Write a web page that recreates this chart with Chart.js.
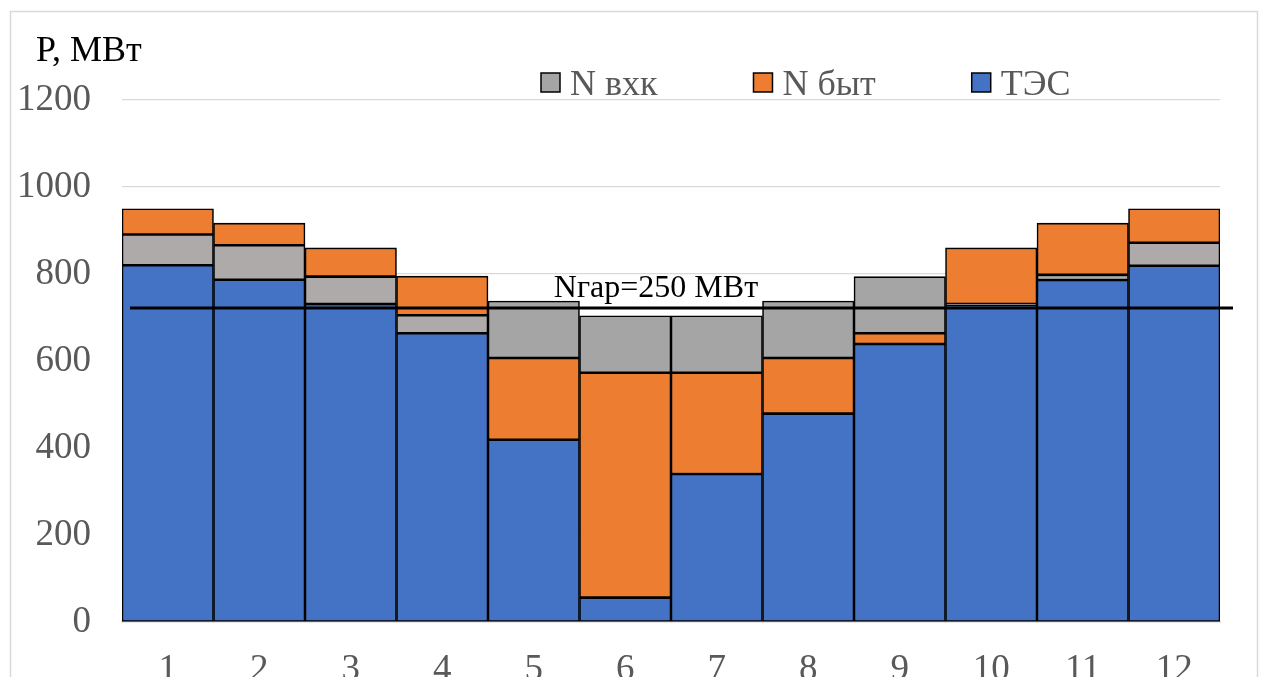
<!DOCTYPE html>
<html>
<head>
<meta charset="utf-8">
<title>Баланс мощности по месяцам</title>
<script src="https://cdn.jsdelivr.net/npm/chart.js@4"></script>
<style>
  html, body { margin: 0; padding: 0; background: #fff; overflow: hidden; }
  canvas { display: block; }
</style>
</head>
<body>
<canvas id="chart" width="1264" height="720"></canvas>
<script>
// Месяцы года
const months = ['1', '2', '3', '4', '5', '6', '7', '8', '9', '10', '11', '12'];

// Мощность ТЭС, МВт
const tes  = [820, 787, 731, 664, 419, 56, 340, 479, 639, 729, 786, 819];
// Бытовая нагрузка ГЭС, МВт
const nByt = [59, 51, 66, 90, 188, 517, 233, 128, 25, 129, 119, 78];
// Нагрузка ВХК, МВт
const nVhk = [71, 79, 63, 41, 131, 131, 131, 131, 130, 2, 12, 53];
// Месяцы, в которых бытовая составляющая лежит сразу над ТЭС (иначе — над ВХК)
const bytBelowVhk = [0, 0, 0, 0, 1, 1, 1, 1, 1, 0, 0, 0];

// Деления оси мощности
const yTicks = [0, 200, 400, 600, 800, 1000, 1200];

// Уровень гарантированной мощности и подпись к нему
const nGarLevel = 722;
const nGarLabel = 'Nгар=250 МВт';
const axisTitle = 'P, МВт';

const names  = { vhk: 'N вхк', byt: 'N быт', tes: 'ТЭС' };
const colors = { tes: '#4472C4', byt: '#ED7D31', vhk: '#A5A5A5', vhkWinter: '#AEAAAA' };

const SERIF = "'Liberation Serif', 'Times New Roman', serif";

const barStyle = {
  borderColor: '#000',
  borderWidth: 1.6,
  borderSkipped: false,
  categoryPercentage: 1,
  barPercentage: 1
};

const datasets = [
  Object.assign({ label: names.tes, data: tes, backgroundColor: colors.tes }, barStyle),
  Object.assign({ label: names.byt, data: nByt.map((v, i) => bytBelowVhk[i] ? v : null),
                  backgroundColor: colors.byt }, barStyle),
  Object.assign({ label: names.vhk, data: nVhk,
                  backgroundColor: nVhk.map((v, i) => bytBelowVhk[i] ? colors.vhk : colors.vhkWinter) }, barStyle),
  Object.assign({ label: names.byt, data: nByt.map((v, i) => bytBelowVhk[i] ? null : v),
                  backgroundColor: colors.byt }, barStyle)
];

// Рамка, заголовок оси, линия Nгар и легенда
const decorations = {
  id: 'decorations',
  beforeDraw(chart) {
    const ctx = chart.ctx;
    ctx.save();
    ctx.strokeStyle = '#D9D9D9';
    ctx.lineWidth = 1.5;
    ctx.strokeRect(10.5, 11.5, 1247, 760);
    ctx.restore();
  },
  afterDatasetsDraw(chart) {
    const ctx = chart.ctx;
    const area = chart.chartArea;
    const y = chart.scales.y.getPixelForValue(nGarLevel);
    ctx.save();
    ctx.strokeStyle = '#000';
    ctx.lineWidth = 3;
    ctx.beginPath();
    ctx.moveTo(area.left + 8, y);
    ctx.lineTo(area.right + 13, y);
    ctx.stroke();

    ctx.fillStyle = '#000';
    ctx.font = '32px ' + SERIF;
    ctx.textAlign = 'center';
    ctx.textBaseline = 'alphabetic';
    ctx.fillText(nGarLabel, 656, y - 11);

    ctx.textAlign = 'left';
    ctx.font = '36px ' + SERIF;
    ctx.fillText(axisTitle, 36, 61);

    // Легенда
    const items = [
      { t: names.vhk, c: colors.vhk },
      { t: names.byt, c: colors.byt },
      { t: names.tes, c: colors.tes }
    ];
    ctx.font = '36px ' + SERIF;
    let x = 541;
    const box = 19, boxTop = 73;
    items.forEach(it => {
      ctx.fillStyle = it.c;
      ctx.fillRect(x, boxTop, box, box);
      ctx.strokeStyle = '#000';
      ctx.lineWidth = 1.5;
      ctx.strokeRect(x, boxTop, box, box);
      ctx.fillStyle = '#595959';
      ctx.fillText(it.t, x + box + 10, 95);
      x += box + 10 + ctx.measureText(it.t).width + 96;
    });
    ctx.restore();
  }
};

new Chart(document.getElementById('chart'), {
  type: 'bar',
  data: { labels: months, datasets: datasets },
  options: {
    responsive: false,
    animation: false,
    layout: { padding: { top: 100, right: 44, bottom: 0, left: 0 } },
    plugins: {
      legend: { display: false },
      tooltip: { enabled: false }
    },
    scales: {
      x: {
        stacked: true,
        grid: { display: false, drawTicks: false },
        border: { display: true, color: '#D9D9D9', width: 1.5 },
        ticks: { color: '#595959', font: { family: SERIF, size: 37 }, padding: 26, maxRotation: 0 },
        afterFit(scale) { scale.height = 98; }
      },
      y: {
        stacked: true,
        min: 0,
        max: 1200,
        afterBuildTicks(scale) { scale.ticks = yTicks.map(v => ({ value: v })); },
        grid: { color: '#D9D9D9', lineWidth: 1.2, drawTicks: false },
        border: { display: false },
        ticks: {
          color: '#595959',
          font: { family: SERIF, size: 37 },
          padding: 31,
          callback: v => String(v)
        },
        afterFit(scale) { scale.width = 122; }
      }
    }
  },
  plugins: [decorations]
});
</script>
</body>
</html>
